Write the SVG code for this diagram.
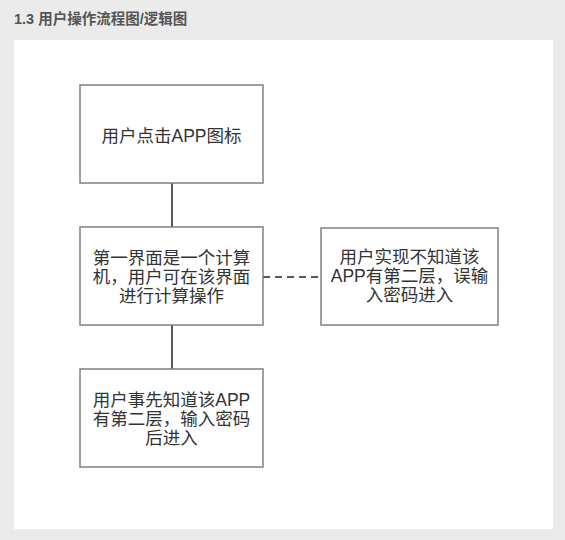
<svg xmlns="http://www.w3.org/2000/svg" width="565" height="540" viewBox="0 0 565 540">
<style>
.t{font-family:"Liberation Sans","Noto Sans CJK SC",sans-serif;font-size:17.5px;fill:#333;text-anchor:middle;dominant-baseline:central}
.box{fill:#fff;stroke:#808080;stroke-width:1.5}
.c{stroke:#222;stroke-width:1.5;fill:none}
</style>
<rect x="0" y="0" width="565" height="540" fill="#ebebeb"/>
<text x="14" y="24" font-family="'Liberation Sans','Noto Sans CJK SC',sans-serif" font-size="14.5" font-weight="bold" fill="#555">1.3 用户操作流程图/逻辑图</text>
<rect x="14" y="40" width="539" height="489" fill="#fff"/>
<g id="connectors">
<line class="c" x1="172" y1="183" x2="172" y2="227"/>
<line class="c" x1="172" y1="325" x2="172" y2="369"/>
<line class="c" x1="263" y1="277" x2="321" y2="277" stroke-dasharray="7,5"/>
</g>
<g id="n1">
<rect class="box" x="80" y="85" width="183" height="98"/>
<text class="t" x="171.5" y="136">用户点击APP图标</text>
</g>
<g id="n2">
<rect class="box" x="80" y="227" width="183" height="98"/>
<text class="t" x="171.5" y="257.5">第一界面是一个计算</text>
<text class="t" x="171.5" y="276.5">机，用户可在该界面</text>
<text class="t" x="171.5" y="295.5">进行计算操作</text>
</g>
<g id="n3">
<rect class="box" x="321" y="228" width="177" height="97"/>
<text class="t" x="409.5" y="257">用户实现不知道该</text>
<text class="t" x="409.5" y="276">APP有第二层，误输</text>
<text class="t" x="409.5" y="295">入密码进入</text>
</g>
<g id="n4">
<rect class="box" x="80" y="369" width="183" height="98"/>
<text class="t" x="171.5" y="400">用户事先知道该APP</text>
<text class="t" x="171.5" y="419">有第二层，输入密码</text>
<text class="t" x="171.5" y="438">后进入</text>
</g>
</svg>
